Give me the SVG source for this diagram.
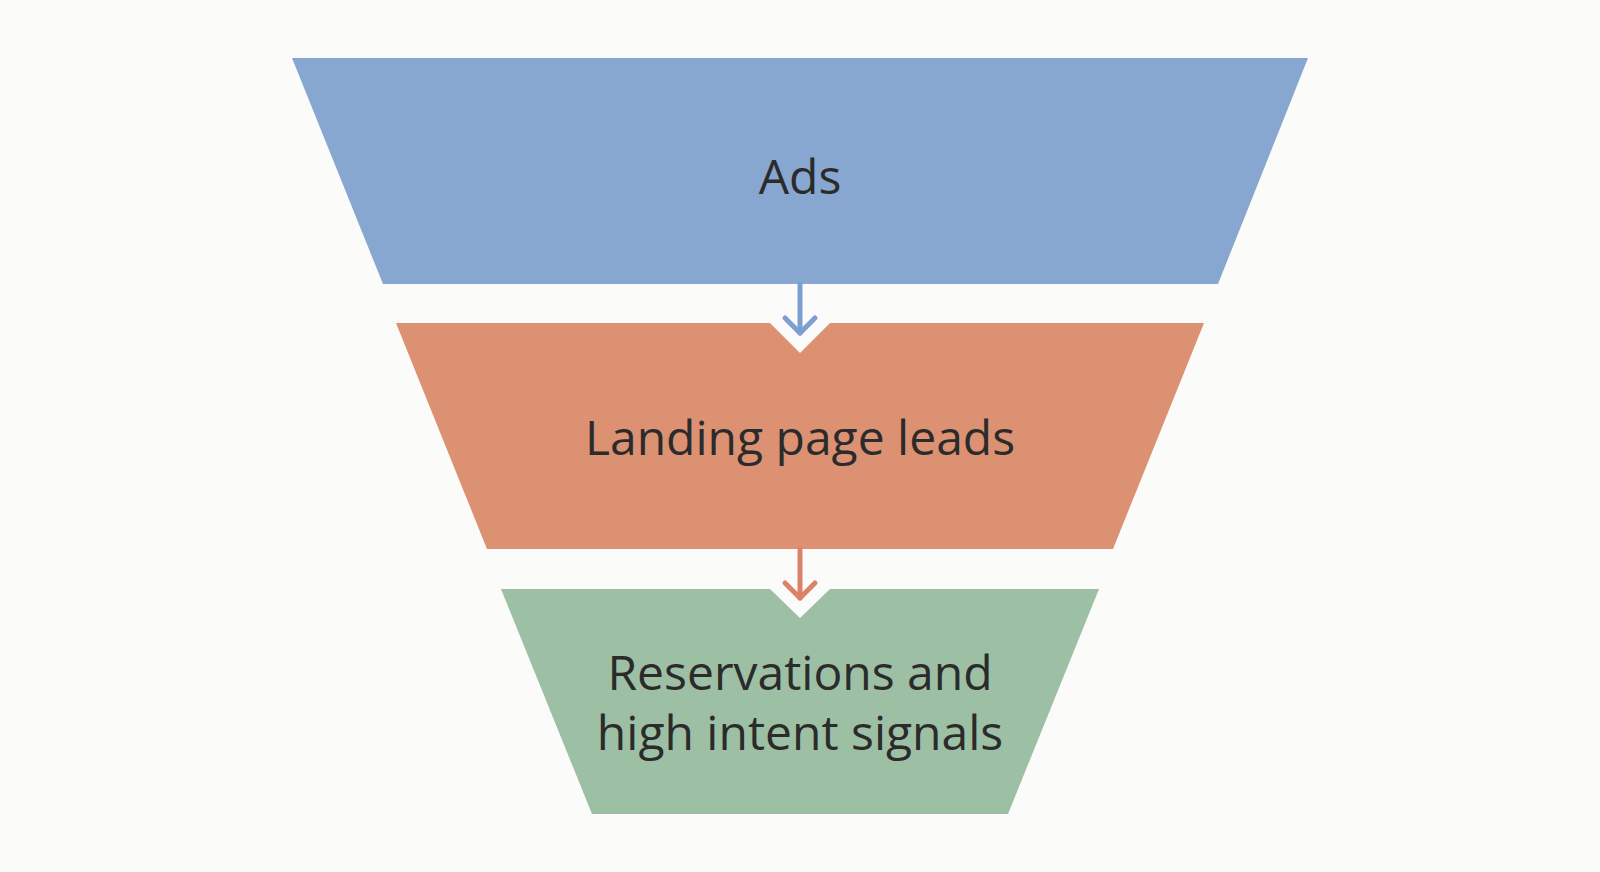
<svg xmlns="http://www.w3.org/2000/svg" width="1600" height="872" viewBox="0 0 1600 872">
  <style>
    .lbl { font-family: "Open Sans", "Liberation Sans", sans-serif; font-size: 48px; fill: #2b2b2b; text-anchor: middle; }
    .arr { fill: none; stroke-width: 5; stroke-linecap: round; stroke-linejoin: round; }
  </style>
  <rect x="0" y="0" width="1600" height="872" fill="#fbfbf9"/>
  <g id="node-ads">
    <polygon points="292,58 1308,58 1218,284 383,284" fill="#87a7d0"/>
    <text class="lbl" x="800" y="194">Ads</text>
  </g>
  <g id="node-landing">
    <polygon points="396,323 770,323 800,353 830,323 1204,323 1113,549 487,549" fill="#db9172"/>
    <text class="lbl" x="800" y="455">Landing page leads</text>
  </g>
  <g id="node-reservations">
    <polygon points="501,589 770,589 800,618 830,589 1099,589 1008,814 592,814" fill="#9dbfa3"/>
    <text class="lbl" x="800" y="690">Reservations and</text>
    <text class="lbl" x="800" y="750">high intent signals</text>
  </g>
  <g id="connectors">
    <g stroke="#7b9fd3" class="arr">
      <line x1="800" y1="284" x2="800" y2="333"/>
      <polyline points="785,318 800,333 815,318"/>
    </g>
    <g stroke="#d9846a" class="arr">
      <line x1="800" y1="549" x2="800" y2="598"/>
      <polyline points="785,583 800,598 815,583"/>
    </g>
  </g>
</svg>
